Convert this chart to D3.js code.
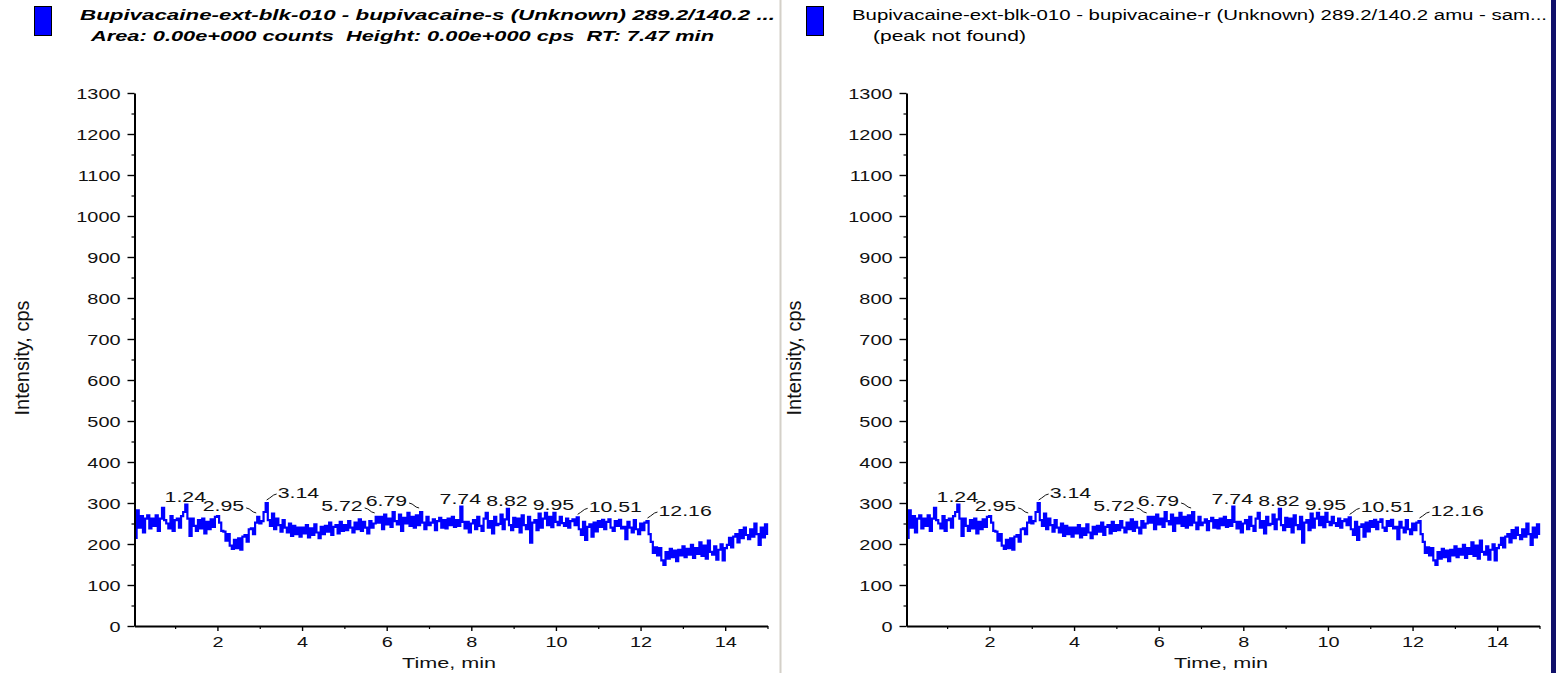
<!DOCTYPE html>
<html>
<head>
<meta charset="utf-8">
<script src="https://cdn.jsdelivr.net/npm/d3@7"></script>
<style>
  body { margin: 0; background: #ffffff; }
  svg { display: block; font-family: "Liberation Sans", Arial, sans-serif; }
  text { white-space: pre; }
</style>
</head>
<body>
<svg id="chart" width="1556" height="673"></svg>
<script>
// XIC trace, 289.2/140.2 amu — sampled every scanStep minutes from scanStart
const scanStart = 0.04;
const scanStep = 0.05;
const intensity = [
  215, 282, 240, 268, 228, 262, 270, 238, 262, 244, 270, 232, 262, 288, 258, 250, 238, 268, 232, 258,
  262, 240, 268, 278, 296, 262, 220, 262, 244, 232, 258, 238, 262, 226, 254, 236, 260, 242, 266, 268,
  252, 232, 230, 208, 224, 196, 188, 210, 190, 214, 186, 218, 222, 206, 236, 238, 224, 252, 266, 250,
  256, 278, 300, 258, 244, 274, 236, 262, 246, 230, 258, 240, 228, 250, 220, 244, 224, 240, 218, 240,
  226, 246, 216, 238, 222, 248, 228, 214, 242, 224, 244, 230, 252, 222, 242, 246, 226, 254, 232, 246,
  234, 256, 240, 228, 252, 236, 260, 232, 254, 240, 226, 256, 240, 250, 266, 252, 266, 236, 272, 248,
  262, 242, 278, 256, 248, 272, 232, 264, 250, 276, 244, 266, 240, 270, 246, 278, 252, 236, 266, 246,
  252, 260, 234, 256, 264, 240, 258, 238, 262, 246, 266, 242, 258, 244, 291, 254, 238, 254, 228, 250,
  258, 236, 266, 244, 232, 262, 276, 240, 256, 226, 266, 246, 249, 272, 236, 260, 286, 246, 234, 264,
  242, 262, 228, 270, 246, 236, 266, 203, 252, 258, 234, 274, 240, 262, 276, 246, 266, 241, 276, 254,
  246, 266, 251, 244, 262, 240, 256, 260, 246, 265, 236, 222, 254, 210, 242, 248, 218, 252, 231, 256,
  242, 259, 236, 254, 260, 240, 232, 256, 244, 259, 238, 242, 212, 254, 240, 228, 258, 236, 224, 250,
  234, 252, 256, 224, 205, 178, 192, 172, 190, 160, 149, 180, 164, 188, 168, 184, 158, 186, 172, 194,
  168, 188, 174, 198, 166, 190, 176, 204, 171, 196, 164, 208, 181, 174, 194, 162, 186, 199, 160, 190,
  198, 215, 192, 218, 224, 204, 234, 214, 240, 222, 212, 236, 218, 250, 224, 198, 240, 216, 248, 222
];

// Apex retention times picked by the integrator
const peakTimes  = [1.24, 2.95, 3.14, 5.72, 6.79, 7.74, 8.82, 9.95, 10.51, 12.16];
const peakLabels = ["1.24", "2.95", "3.14", "5.72", "6.79", "7.74", "8.82", "9.95", "10.51", "12.16"];

// Axis ticks
const yTickValues  = [0, 100, 200, 300, 400, 500, 600, 700, 800, 900, 1000, 1100, 1200, 1300];
const yMinorValues = [50, 150, 250, 350, 450, 550, 650, 750, 850, 950, 1050, 1150, 1250];
const xTickValues  = [2, 4, 6, 8, 10, 12, 14];
const xMinorValues = [1, 3, 5, 7, 9, 11, 13, 15];
const timeEnd = 15.0;
const intensityMax = 1300;

// Pane headers
const paneTitles = [
  "Bupivacaine-ext-blk-010 - bupivacaine-s (Unknown) 289.2/140.2 ...",
  "Bupivacaine-ext-blk-010 - bupivacaine-r (Unknown) 289.2/140.2 amu - sam..."
];
const paneSubtitles = [
  "Area: 0.00e+000 counts  Height: 0.00e+000 cps  RT: 7.47 min",
  "(peak not found)"
];

// ---------- layout ----------
const svg = d3.select("#chart");
const paneShift = [0, 772];
const plot = { left: 134.5, right: 767.5, top: 93, bottom: 626 };
const stretch = 1.42;               // glyphs are drawn wide, as in the instrument software
const traceColor = "#0000ff";

const points = intensity.map((v, i) => ({ t: scanStart + i * scanStep, v }));

// label placement next to each apex: above, left with leader, right with leader
const placement = {
  "1.24": "above", "2.95": "left", "3.14": "right", "5.72": "left", "6.79": "left",
  "7.74": "above", "8.82": "above", "9.95": "above", "10.51": "right", "12.16": "right"
};

const headerStyle = [
  { weight: "bold", style: "italic", x1: 80, w1: 695, x2: 91, w2: 623 },
  { weight: "normal", style: "normal", x1: 852, w1: 695, x2: 873, w2: 153 }
];

// window chrome: pane divider and right edge
svg.append("rect").attr("x", 779.5).attr("y", 0).attr("width", 2).attr("height", 673).attr("fill", "#d4d0c8");
svg.append("rect").attr("x", 1551).attr("y", 0).attr("width", 5).attr("height", 673).attr("fill", "#10106a");

paneShift.forEach((dx, k) => {
  const g = svg.append("g").attr("transform", `translate(${dx},0)`);
  const hs = headerStyle[k];

  // legend swatch + headers
  g.append("rect").attr("x", 34.5).attr("y", 6.5).attr("width", 17).attr("height", 29)
    .attr("fill", "#0000ff").attr("stroke", "#000").attr("stroke-width", 1);

  svg.append("text").attr("x", hs.x1).attr("y", 20)
    .attr("font-size", 14).attr("font-weight", hs.weight).attr("font-style", hs.style)
    .attr("textLength", hs.w1).attr("lengthAdjust", "spacingAndGlyphs")
    .attr("fill", "#000").text(paneTitles[k]);
  svg.append("text").attr("x", hs.x2).attr("y", 41)
    .attr("font-size", 14).attr("font-weight", hs.weight).attr("font-style", hs.style)
    .attr("textLength", hs.w2).attr("lengthAdjust", "spacingAndGlyphs")
    .attr("fill", "#000").text(paneSubtitles[k]);

  const x = d3.scaleLinear().domain([scanStart, timeEnd]).range([plot.left, plot.right]);
  const y = d3.scaleLinear().domain([0, intensityMax]).range([plot.bottom, plot.top]);

  // trace
  const line = d3.line().x(d => x(d.t)).y(d => y(d.v)).curve(d3.curveStepAfter);
  g.append("path").datum(points)
    .attr("d", line).attr("fill", "none")
    .attr("stroke", traceColor).attr("stroke-width", 2.2).attr("stroke-linejoin", "miter");

  // y axis
  const yMinor = g.append("g").attr("transform", `translate(${plot.left},0)`)
    .call(d3.axisLeft(y).tickValues(yMinorValues).tickSize(3).tickSizeOuter(0).tickFormat(""));
  yMinor.select(".domain").remove();
  yMinor.selectAll("line").attr("stroke", "#000").attr("stroke-width", 1.2);

  const yAxis = g.append("g").attr("transform", `translate(${plot.left},0)`)
    .call(d3.axisLeft(y).tickValues(yTickValues).tickSize(7).tickSizeOuter(0).tickFormat(d3.format("d")));
  yAxis.attr("font-family", null).attr("font-size", null);
  yAxis.select(".domain").attr("stroke", "#000").attr("stroke-width", 2);
  yAxis.selectAll("line").attr("stroke", "#000").attr("stroke-width", 1.4);
  yAxis.selectAll("text")
    .attr("x", null).attr("dy", "0.36em")
    .attr("transform", `translate(-14,0) scale(${stretch},1)`)
    .attr("font-size", 14).attr("fill", "#111");

  // x axis
  const xMinor = g.append("g").attr("transform", `translate(0,${plot.bottom})`)
    .call(d3.axisBottom(x).tickValues(xMinorValues).tickSize(3).tickSizeOuter(0).tickFormat(""));
  xMinor.select(".domain").remove();
  xMinor.selectAll("line").attr("stroke", "#000").attr("stroke-width", 1.2);

  const xAxis = g.append("g").attr("transform", `translate(0,${plot.bottom})`)
    .call(d3.axisBottom(x).tickValues(xTickValues).tickSize(5).tickSizeOuter(0).tickFormat(d3.format("d")));
  xAxis.attr("font-family", null).attr("font-size", null);
  xAxis.select(".domain").attr("stroke", "#000").attr("stroke-width", 2);
  xAxis.selectAll("line").attr("stroke", "#000").attr("stroke-width", 1.4);
  xAxis.selectAll("text")
    .attr("y", null).attr("dy", null)
    .attr("transform", `translate(0,21) scale(${stretch},1)`)
    .attr("font-size", 14).attr("fill", "#111");

  // axis titles
  g.append("text")
    .attr("transform", `translate(29,358) scale(1.3,1) rotate(-90)`)
    .attr("text-anchor", "middle").attr("font-size", 15)
    .attr("textLength", 115).attr("lengthAdjust", "spacingAndGlyphs")
    .attr("fill", "#111").text("Intensity, cps");
  g.append("text")
    .attr("x", 449).attr("y", 668)
    .attr("text-anchor", "middle").attr("font-size", 14)
    .attr("textLength", 94).attr("lengthAdjust", "spacingAndGlyphs")
    .attr("fill", "#111").text("Time, min");

  // apex labels
  peakTimes.forEach((t, j) => {
    const idx = Math.round((t - scanStart) / scanStep);
    const px = x(points[idx].t), py = y(points[idx].v);
    const kind = placement[peakLabels[j]];
    const lbl = g.append("text").attr("font-size", 15).attr("fill", "#111");
    if (kind === "above") {
      lbl.attr("text-anchor", "middle")
        .attr("transform", `translate(${px},${py - 3}) scale(${stretch},1)`);
    } else if (kind === "left") {
      g.append("path")
        .attr("d", `M${px - 11},${py - 9} l3,1 l4,3 l3,1`)
        .attr("fill", "none").attr("stroke", "#111").attr("stroke-width", 1);
      lbl.attr("text-anchor", "end")
        .attr("transform", `translate(${px - 13},${py - 6}) scale(${stretch},1)`);
    } else {
      g.append("path")
        .attr("d", `M${px + 1},${py - 3} l3,-2 l4,-3 l3,-1`)
        .attr("fill", "none").attr("stroke", "#111").attr("stroke-width", 1);
      lbl.attr("text-anchor", "start")
        .attr("transform", `translate(${px + 12},${py - 5}) scale(${stretch},1)`);
    }
    lbl.text(peakLabels[j]);
  });
});
</script>
</body>
</html>
